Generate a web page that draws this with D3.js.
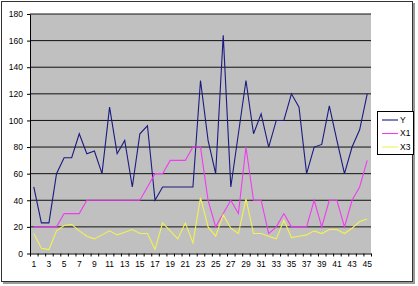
<!DOCTYPE html>
<html>
<head>
<meta charset="utf-8">
<script src="https://cdn.jsdelivr.net/npm/d3@7/dist/d3.min.js"></script>
<style>
  html, body { margin: 0; padding: 0; background: #fff; }
  svg { display: block; }
  text { font-family: "Liberation Sans", Arial, sans-serif; }
</style>
</head>
<body>
<svg id="chart" width="418" height="286"></svg>
<script>
// ---- data ----
const categories = d3.range(1, 46);
const seriesNames = ["Y", "X1", "X3"];
const yValues  = [50,23,23,60,72,72,90,75,77,60,110,75,85,50,90,96,40,50,50,50,50,50,130,85,60,164,50,90,130,90,105,80,100,100,120,110,60,80,82,111,85,60,80,93,120];
const x1Values = [20,20,20,20,30,30,30,40,40,40,40,40,40,40,40,50,60,60,70,70,70,80,80,40,20,30,40,30,80,40,40,15,20,30,20,20,20,40,20,40,40,20,40,50,70];
const x3Values = [15,4,3,17,21,22,17,13,11,14,17,14,16,18,15,15,3,23,17,11,23,8,42,20,13,29,19,15,41,15,15,13,11,25,12,13,14,17,15,18,18,15,19,24,26];
const yTicks = [0,20,40,60,80,100,120,140,160,180];
const xTickLabels = d3.range(1, 46, 2);

// ---- layout ----
const svg = d3.select("#chart");
const plot = { left: 30, right: 371, top: 14, bottom: 253.5 };
const colors = ["#1a1a80", "#f03cf0", "#f2f250"];

// chart area border + shadow
svg.append("rect").attr("x", 3).attr("y", 3).attr("width", 412).attr("height", 281).attr("fill", "#9a9a9a");
svg.append("rect").attr("x", 1.5).attr("y", 1.5).attr("width", 411).attr("height", 280)
  .attr("fill", "#fff").attr("stroke", "#333").attr("stroke-width", 1);

const x = d3.scaleBand().domain(categories).range([plot.left, plot.right]).paddingInner(0).paddingOuter(0);
const xb = d3.scaleLinear().domain([0, categories.length]).range([plot.left, plot.right]);
const y = d3.scaleLinear().domain([0, 180]).range([plot.bottom, plot.top]);

// plot area
svg.append("rect").attr("x", plot.left).attr("y", plot.top)
  .attr("width", plot.right - plot.left).attr("height", plot.bottom - plot.top)
  .attr("fill", "#c0c0c0");

// gridlines
svg.append("g").selectAll("line").data(yTicks.filter(d => d > 0)).join("line")
  .attr("x1", plot.left).attr("x2", plot.right)
  .attr("y1", d => y(d)).attr("y2", d => y(d))
  .attr("stroke", "#111").attr("stroke-width", 1);

// y axis
const yAxis = svg.append("g").attr("transform", `translate(${plot.left},0)`)
  .call(d3.axisLeft(y).tickValues(yTicks).tickSize(3).tickPadding(4).tickSizeOuter(0));
yAxis.select(".domain").attr("stroke", "#000");
yAxis.selectAll("line").attr("stroke", "#000");
yAxis.selectAll("text").attr("font-size", "8.5px").attr("fill", "#000");

// x axis ticks at category boundaries
const xTicks = svg.append("g").attr("transform", `translate(0,${plot.bottom})`)
  .call(d3.axisBottom(xb).tickValues(d3.range(0, categories.length + 1)).tickSize(3).tickFormat("").tickSizeOuter(0));
xTicks.select(".domain").attr("stroke", "#000");
xTicks.selectAll("line").attr("stroke", "#000");

// x labels
const xLab = svg.append("g").attr("transform", `translate(0,${plot.bottom})`)
  .call(d3.axisBottom(x).tickValues(xTickLabels).tickSize(0).tickPadding(7));
xLab.select(".domain").remove();
xLab.selectAll("text").attr("font-size", "8.5px").attr("fill", "#000");

// lines
const allSeries = [yValues, x1Values, x3Values];
const line = d3.line()
  .x((d, i) => x(categories[i]) + x.bandwidth() / 2)
  .y(d => y(d));
svg.append("g").selectAll("path").data(allSeries).join("path")
  .attr("d", d => line(d))
  .attr("fill", "none")
  .attr("stroke", (d, i) => colors[i])
  .attr("stroke-width", 1.1)
  .attr("stroke-linejoin", "miter");

// legend
const lg = svg.append("g");
lg.append("rect").attr("x", 377.5).attr("y", 111.5).attr("width", 36).attr("height", 43)
  .attr("fill", "#fff").attr("stroke", "#000").attr("stroke-width", 1);
const rowsY = [120, 133.5, 147];
const items = lg.selectAll("g.item").data(seriesNames).join("g").attr("class", "item");
items.append("line")
  .attr("x1", 382).attr("x2", 398)
  .attr("y1", (d, i) => rowsY[i]).attr("y2", (d, i) => rowsY[i])
  .attr("stroke", (d, i) => colors[i]).attr("stroke-width", 1.1);
items.append("text")
  .attr("x", 400).attr("y", (d, i) => rowsY[i]).attr("dy", "0.35em")
  .attr("font-size", "8.5px").attr("fill", "#000")
  .text(d => d);
</script>
</body>
</html>
